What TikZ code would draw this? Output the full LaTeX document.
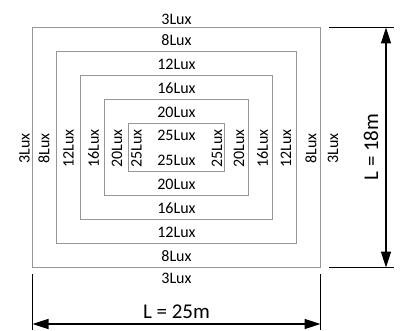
\documentclass[tikz,border=0pt]{standalone}
\usepackage{fontspec}
\setmainfont{Carlito}
\usetikzlibrary{arrows.meta}
\definecolor{zonegray}{RGB}{150,150,150}

\begin{document}
\begin{tikzpicture}[x=1pt,y=1pt,every path/.append style={line width=1.6pt},
		zone/.style = {draw=zonegray,inner sep=0pt},
		lux/.style = {font=\fontsize{16}{18}\selectfont,inner sep=0pt},
		side/.style = {lux,rotate=90},
		dimtext/.style = {font=\fontsize{21}{24}\selectfont,inner sep=0pt},
		dimarrow/.style = {{Triangle[length=16pt,width=10pt]}-{Triangle[length=16pt,width=10pt]}}]
			\useasboundingbox (0,0) rectangle (402,330);
			% lighting zones
			\node (r1) at (176.5,182.5) [zone,minimum width=288pt,minimum height=240pt] {};
			\node (r2) at (176.5,182.5) [zone,minimum width=240pt,minimum height=192pt] {};
			\node (r3) at (176.5,182.5) [zone,minimum width=192pt,minimum height=144pt] {};
			\node (r4) at (176.5,182.5) [zone,minimum width=144pt,minimum height=96pt] {};
			\node (r5) at (176.5,182.5) [zone,minimum width=96pt,minimum height=48pt] {};
			% top labels
			\node (t1) at (176.5,311) [lux] {3Lux};
			\node (t2) at (176.5,290) [lux] {8Lux};
			\node (t3) at (176.5,266) [lux] {12Lux};
			\node (t4) at (176.5,242) [lux] {16Lux};
			\node (t5) at (176.5,218) [lux] {20Lux};
			\node (t6) at (176.5,194.5) [lux] {25Lux};
			% bottom labels
			\node (b1) at (176.5,52) [lux] {3Lux};
			\node (b2) at (176.5,74) [lux] {8Lux};
			\node (b3) at (176.5,98) [lux] {12Lux};
			\node (b4) at (176.5,122) [lux] {16Lux};
			\node (b5) at (176.5,146) [lux] {20Lux};
			\node (b6) at (176.5,169.5) [lux] {25Lux};
			% left labels
			\node (l1) at (24.5,181.5) [side] {3Lux};
			\node (l2) at (44,181.5) [side] {8Lux};
			\node (l3) at (68.5,181.5) [side] {12Lux};
			\node (l4) at (93.5,181.5) [side] {16Lux};
			\node (l5) at (117,181.5) [side] {20Lux};
			\node (l6) at (136.5,181.5) [side] {25Lux};
			% right labels
			\node (q6) at (217,181.5) [side] {25Lux};
			\node (q5) at (239,181.5) [side] {20Lux};
			\node (q4) at (262.5,181.5) [side] {16Lux};
			\node (q3) at (286,181.5) [side] {12Lux};
			\node (q2) at (311,181.5) [side] {8Lux};
			\node (q1) at (333,181.5) [side] {3Lux};
			% height dimension
			\coordinate (hta) at (329,302.5);
			\coordinate (htb) at (394,302.5);
			\coordinate (hba) at (329,62.5);
			\coordinate (hbb) at (394,62.5);
			\coordinate (hup) at (386,302.5);
			\coordinate (hdn) at (386,62.5);
			\draw (hta) -- (htb);
			\draw (hba) -- (hbb);
			\draw [dimarrow] (hup) -- (hdn);
			\node (hl) at (371,183) [dimtext,rotate=90] {L = 18m};
			% width dimension
			\coordinate (wla) at (32.5,56);
			\coordinate (wlb) at (32.5,0);
			\coordinate (wra) at (320.5,56);
			\coordinate (wrb) at (320.5,0);
			\coordinate (wl) at (32.5,6);
			\coordinate (wr) at (320.5,6);
			\draw (wla) -- (wlb);
			\draw (wra) -- (wrb);
			\draw [dimarrow] (wl) -- (wr);
			\node (wlab) at (176.5,18) [dimtext] {L = 25m};
		\end{tikzpicture}
\end{document}
